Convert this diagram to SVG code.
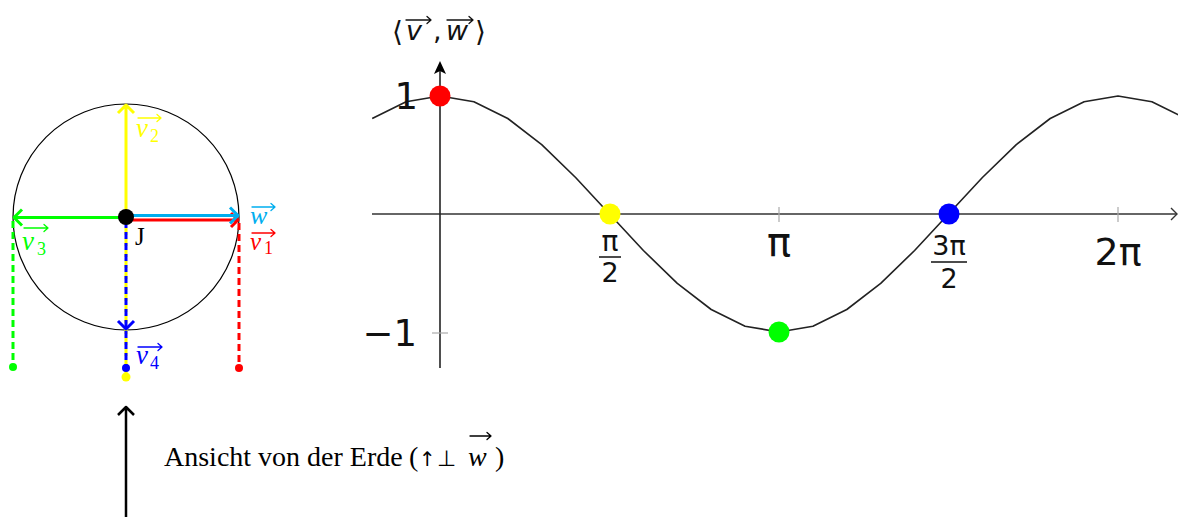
<svg xmlns="http://www.w3.org/2000/svg" width="1178" height="517" viewBox="0 0 1178 517">
<style>
.serif{font-family:"Liberation Serif","DejaVu Serif",serif}
.it{font-style:italic}
.sans{font-family:"DejaVu Sans","Liberation Sans",sans-serif}
.oa{fill:none;stroke-width:1.3;stroke-linecap:round;stroke-linejoin:round}
.vec{fill:none;stroke-width:3;stroke-linecap:butt;stroke-linejoin:round}
.dash{fill:none;stroke-width:3;stroke-dasharray:7 4}
.tick{stroke:#aaaaaa;stroke-width:1.2}
</style>
<rect width="1178" height="517" fill="#ffffff"/>

<!-- Left: circle view -->
<g id="circle">
<circle cx="126" cy="217" r="113" fill="none" stroke="#000" stroke-width="1.2"/>
</g>
<g id="connectors">
<line class="dash" x1="13" y1="221" x2="13" y2="367" stroke="#00ff00"/>
<line class="dash" x1="239" y1="223" x2="239" y2="368" stroke="#ff0000"/>
<line class="dash" x1="126" y1="217" x2="126" y2="377" stroke="#ffff00"/>
<line class="dash" x1="126" y1="221" x2="126" y2="368" stroke="#0000ff" stroke-dasharray="6 5"/>
<path class="vec" stroke="#ffff00" d="M126,217 V105 M118,113 L126,105 L134,113"/>
<path class="vec" stroke="#00ff00" d="M126,217.5 H14 M22,209.5 L14,217.5 L22,225.5"/>
<path class="vec" stroke="#ff0000" d="M126,220 H238 M231,213 L238,220 L231,227"/>
<path class="vec" stroke="#00aeef" d="M126,215.5 H238 M230,207.5 L238,215.5 L230,223.5"/>
<path class="vec" stroke="#0000ff" stroke-width="2.5" d="M118,321 L126,329 L134,321"/>
<path fill="none" stroke="#000" stroke-width="2.5" stroke-linejoin="round" d="M126,517 V407 M118,415 L126,407 L134,415"/>
</g>
<g id="dots-left">
<circle cx="13" cy="367" r="4" fill="#00ff00"/>
<circle cx="239" cy="368" r="4" fill="#ff0000"/>
<circle cx="126" cy="377" r="4.5" fill="#ffff00"/>
<circle cx="126" cy="368" r="4" fill="#0000ff"/>
<circle id="J" cx="126" cy="217" r="8" fill="#000"/>
</g>
<g id="labels-left">
<text class="serif" x="135" y="245" font-size="25" fill="#000">J</text>
<g id="lab-v2" fill="#ffff00">
<path class="oa" stroke="#ffff00" d="M138,118 H161 M157,114.5 L161,118 L157,121.5"/>
<text class="serif it" x="136" y="137" font-size="27">v</text>
<text class="serif" x="150" y="142" font-size="18">2</text>
</g>
<g id="lab-w" fill="#00aeef">
<path class="oa" stroke="#00aeef" d="M252,207 H275 M271,203.5 L275,207 L271,210.5"/>
<text class="serif it" x="250" y="224" font-size="26">w</text>
</g>
<g id="lab-v1" fill="#ff0000">
<path class="oa" stroke="#ff0000" d="M252,233 H275 M271,229.5 L275,233 L271,236.5"/>
<text class="serif it" x="250" y="250" font-size="25">v</text>
<text class="serif" x="264" y="254" font-size="18">1</text>
</g>
<g id="lab-v3" fill="#00ff00">
<path class="oa" stroke="#00ff00" d="M24,228 H48 M44,224.5 L48,228 L44,231.5"/>
<text class="serif it" x="22" y="250" font-size="27">v</text>
<text class="serif" x="37" y="255" font-size="18">3</text>
</g>
<g id="lab-v4" fill="#0000ff">
<path class="oa" stroke="#0000ff" d="M138,347 H162 M158,343.5 L162,347 L158,350.5"/>
<text class="serif it" x="136" y="364" font-size="27">v</text>
<text class="serif" x="150" y="369" font-size="18">4</text>
</g>
</g>
<g id="caption" fill="#000">
<text class="serif" x="164" y="466" font-size="28">Ansicht von der Erde</text>
<text class="serif" x="409" y="466" font-size="28">(</text>
<text class="sans" x="419" y="466" font-size="20">↑</text>
<text class="sans" x="437" y="466" font-size="22">⊥</text>
<path class="oa" stroke="#000" d="M470,436 H491 M487,432.5 L491,436 L487,439.5"/>
<text class="serif it" x="468" y="466" font-size="28">w</text>
<text class="serif" x="495" y="466" font-size="28">)</text>
</g>

<!-- Right: graph -->
<g id="axes">
<line x1="372" y1="214" x2="1177" y2="214" stroke="#333" stroke-width="1.6"/>
<path d="M1171,208 L1177,214 L1171,220" fill="none" stroke="#333" stroke-width="1.4"/>
<line x1="440" y1="368" x2="440" y2="68" stroke="#222" stroke-width="1.6"/>
<path d="M440,61 L446,74 L440,71 L434,74 Z" fill="#000"/>
<line class="tick" x1="779" y1="207" x2="779" y2="222"/>
<line class="tick" x1="1118" y1="207" x2="1118" y2="222"/>
<line class="tick" x1="432" y1="333" x2="448" y2="333"/>
</g>
<g id="curve">
<polyline fill="none" stroke="#222" stroke-width="1.6" stroke-linejoin="round" points="372.2,118.5 406.1,101.8 440,96 473.9,101.8 507.8,118.5 541.7,144.6 575.6,177.5 609.5,214 643.4,250.5 677.3,283.4 711.2,309.5 745.1,326.2 779,332 812.9,326.2 846.8,309.5 880.7,283.4 914.6,250.5 948.5,214 982.4,177.5 1016.3,144.6 1050.2,118.5 1084.1,101.8 1118,96 1151.9,101.8 1185.8,118.5"/>
</g>
<g id="points">
<circle cx="440" cy="96" r="10.5" fill="#ff0000"/>
<circle cx="610" cy="214" r="10.5" fill="#ffff00"/>
<circle cx="779" cy="332" r="10.5" fill="#00ff00"/>
<circle cx="949" cy="214" r="10.5" fill="#0000ff"/>
</g>
<g id="graph-labels" class="sans" fill="#111">
<text x="418" y="109" font-size="37" text-anchor="end">1</text>
<text x="417" y="346" font-size="37" text-anchor="end">−1</text>
<text x="610" y="251" font-size="28" text-anchor="middle">π</text>
<line x1="599" y1="257" x2="621" y2="257" stroke="#111" stroke-width="1.5"/>
<text x="610" y="282" font-size="27" text-anchor="middle">2</text>
<text x="779" y="256" font-size="40" text-anchor="middle">π</text>
<text x="949" y="255" font-size="27" text-anchor="middle">3π</text>
<line x1="931" y1="262" x2="967" y2="262" stroke="#111" stroke-width="1.5"/>
<text x="949" y="288" font-size="27" text-anchor="middle">2</text>
<text x="1118" y="265" font-size="38" text-anchor="middle">2π</text>
</g>
<g id="ylabel" class="sans" fill="#111">
<text x="392" y="41" font-size="28">⟨</text>
<path class="oa" stroke="#111" d="M406,20 H431 M427,16.5 L431,20 L427,23.5"/>
<text class="it" x="406" y="40" font-size="27">v</text>
<text x="433" y="40" font-size="27">,</text>
<path class="oa" stroke="#111" d="M447,20 H473 M469,16.5 L473,20 L469,23.5"/>
<text class="it" x="446" y="40" font-size="27">w</text>
<text x="475" y="41" font-size="28">⟩</text>
</g>
</svg>
